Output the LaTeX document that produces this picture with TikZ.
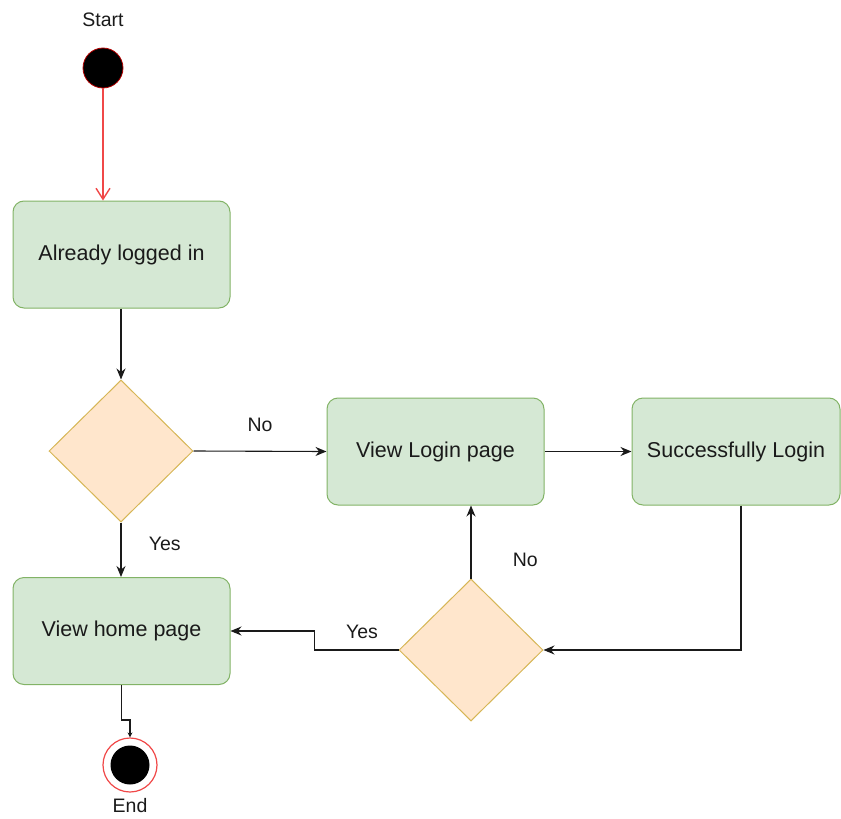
\documentclass[tikz,border=0pt]{standalone}
\usepackage{fontspec}
\setmainfont{Liberation Sans}
\usetikzlibrary{arrows.meta,shapes.geometric,calc}
\definecolor{boxfill}{HTML}{D5E8D4}
\definecolor{boxline}{HTML}{82B366}
\definecolor{decfill}{HTML}{FFE6CC}
\definecolor{decline}{HTML}{D6B656}
\definecolor{startred}{HTML}{B20000}
\definecolor{flowred}{HTML}{F04848}
\definecolor{inktext}{HTML}{1A1A1A}

\tikzset{
	activity/.style={draw=boxline, fill=boxfill, line width=1pt, rounded corners=11pt,
		minimum width=217pt, minimum height=107pt, text=inktext, font=\fontsize{21.5}{25}\selectfont},
	decision/.style={draw=decline, fill=decfill, line width=1pt, diamond, inner sep=0pt,
		minimum width=144pt, minimum height=142pt},
	flow/.style={draw=inktext, line width=1.1pt, -{Stealth[length=11pt,width=9pt]}},
	lbl/.style={text=inktext, font=\fontsize{19.5}{22}\selectfont}
}

\begin{document}
\begin{tikzpicture}[x=1pt,y=-1pt]
		\useasboundingbox (0,0) rectangle (841,819);
		% start and end
		\node[circle, fill=black, draw=startred, line width=0.8pt, minimum size=40pt, inner sep=0pt] (start) at (103,68) {};
		\node[lbl] (startlbl) at (103,20) {Start};
		\node[circle, draw=flowred, line width=1.2pt, minimum size=54pt, inner sep=0pt] (end) at (130,765) {};
		\fill[black] (end.center) circle[radius=19.5];
		\node[lbl] (endlbl) at (130,806) {End};
		% activities
		\node[activity] (logged) at (121.5,254.5) {Already logged in};
		\node[activity] (loginpage) at (435.5,451.5) {View Login page};
		\node[activity, minimum width=208pt] (success) at (736,451.5) {Successfully Login};
		\node[activity] (home) at (121.5,631) {View home page};
		\node[decision] (dec1) at (121,451) {};
		\node[decision] (dec2) at (471,650) {};
		% flows
		\draw[draw=flowred, line width=1.4pt, -{Straight Barb[length=11pt,width=14pt]}] (start) -- (start |- logged.north);
		\draw[flow] (dec1 |- logged.south) -- (dec1.north);
		\draw[flow] (dec1.east) -- (loginpage.west) node[lbl, pos=0.5, above=16pt] (no1) {No};
		\draw[flow] (loginpage.east) -- (success.west);
		\draw[flow] (dec1.south) -- (dec1 |- home.north) node[lbl, pos=0.4, right=24pt] (yes1) {Yes};
		\draw[flow] ($(success.south)+(5,0)$) |- (dec2.east);
		\draw[flow] (dec2.north) -- (dec2 |- loginpage.south) node[lbl, pos=0.25, right=38pt] (no2) {No};
		\draw[flow] (dec2.west) -- ++(-84,0) coordinate (bend) |- (home.east);
		\node[lbl] (yes2) at (362,632) {Yes};
		\draw[draw=inktext, line width=1.1pt, -{Stealth[length=5pt,width=5pt]}] (home.south) -- ++(0,35) -| (end.north);
	\end{tikzpicture}
\end{document}
